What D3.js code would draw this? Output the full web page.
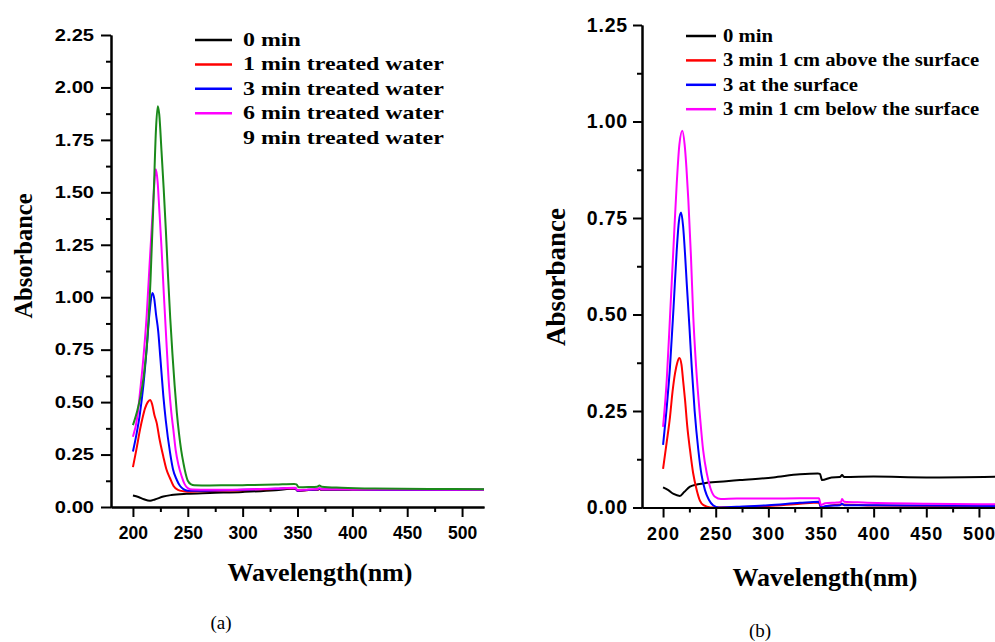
<!DOCTYPE html>
<html>
<head>
<meta charset="utf-8">
<script src="https://cdn.jsdelivr.net/npm/d3@7"></script>
<style>
body { margin: 0; background: #fff; }
svg { display: block; }
.tick text { font-family: "Liberation Sans", Arial, sans-serif; font-weight: bold; fill: #000; }
.serif { font-family: "Liberation Serif", "Times New Roman", serif; fill: #000; }
</style>
</head>
<body>
<script>

// ---- panel (a): treatment time ----
var wlA0  = [200, 205, 210, 215.6, 220, 227.7, 235, 249, 270, 300, 330, 348, 350, 360, 368, 370, 372, 400, 450, 520];
var absA0 = [0.055, 0.048, 0.037, 0.03, 0.036, 0.05, 0.057, 0.063, 0.067, 0.072, 0.08, 0.088, 0.078, 0.081, 0.082, 0.086, 0.082, 0.083, 0.082, 0.082];

var wlA1  = [200, 203, 206.5, 209, 211, 213.5, 215.6, 217.5, 219.5, 221.7, 224, 227.7, 230.5, 233.8, 237, 241, 246, 250, 260, 300, 330, 348, 350, 360, 368, 370, 372, 400, 450, 520];
var absA1 = [0.19, 0.27, 0.37, 0.43, 0.47, 0.50, 0.51, 0.49, 0.44, 0.40, 0.33, 0.24, 0.18, 0.137, 0.10, 0.082, 0.075, 0.073, 0.075, 0.08, 0.086, 0.089, 0.077, 0.081, 0.082, 0.086, 0.082, 0.082, 0.082, 0.082];

var wlA3  = [200, 203, 206.5, 209.5, 212.6, 215, 217.7, 219.5, 221, 223, 225, 227.7, 230, 233.8, 236.5, 239.9, 243, 246, 250, 260, 300, 330, 348, 350, 360, 368, 370, 372, 400, 450, 520];
var absA3 = [0.265, 0.34, 0.45, 0.58, 0.76, 0.92, 1.02, 0.99, 0.92, 0.84, 0.71, 0.53, 0.41, 0.26, 0.18, 0.13, 0.10, 0.085, 0.078, 0.078, 0.082, 0.087, 0.09, 0.078, 0.082, 0.083, 0.087, 0.083, 0.083, 0.082, 0.082];

var wlA6  = [200, 204, 206.5, 209, 212.6, 215, 217, 219, 220.8, 222.5, 224, 226, 228, 230.8, 233, 235, 236.8, 239, 241.5, 244.5, 247, 250, 254, 270, 300, 330, 348, 350, 360, 368, 370, 372, 400, 450, 520];
var absA6 = [0.335, 0.43, 0.55, 0.68, 0.92, 1.14, 1.32, 1.50, 1.61, 1.55, 1.42, 1.24, 1.03, 0.76, 0.57, 0.45, 0.37, 0.27, 0.20, 0.145, 0.11, 0.09, 0.083, 0.082, 0.084, 0.088, 0.092, 0.08, 0.084, 0.085, 0.09, 0.085, 0.084, 0.083, 0.082];

var wlA9  = [200, 204, 207, 210, 213, 216, 219, 221, 222.6, 224, 226, 228, 230, 232, 234, 236, 238, 240, 242, 244, 246, 248, 250, 253, 256, 270, 300, 330, 347, 349, 351, 360, 368, 370, 372, 390, 420, 470, 520];
var absA9 = [0.39, 0.46, 0.53, 0.63, 0.79, 1.08, 1.50, 1.80, 1.91, 1.87, 1.70, 1.52, 1.32, 1.10, 0.90, 0.73, 0.58, 0.45, 0.35, 0.27, 0.21, 0.16, 0.125, 0.108, 0.104, 0.103, 0.104, 0.107, 0.11, 0.108, 0.094, 0.095, 0.097, 0.102, 0.097, 0.092, 0.088, 0.086, 0.085];

var labelsA = ["0 min", "1 min treated water", "3 min treated water", "6 min treated water", "9 min treated water"];

// ---- panel (b): position of treatment ----
var wlB0  = [200, 205, 210, 216, 220, 225.6, 233, 241.5, 260, 273, 304.6, 330, 347, 349, 351, 360, 368, 370, 372, 400, 450, 520];
var absB0 = [0.052, 0.045, 0.035, 0.03, 0.04, 0.054, 0.06, 0.064, 0.068, 0.071, 0.078, 0.086, 0.088, 0.087, 0.071, 0.078, 0.079, 0.084, 0.079, 0.08, 0.078, 0.08];

var wlB1  = [200, 203.5, 206.6, 209, 211.4, 213.5, 215.5, 217.5, 219, 220.9, 223, 225.6, 228.5, 232, 235, 238.4, 245, 270, 300, 330, 348, 350, 355, 370, 400, 520];
var absB1 = [0.10, 0.17, 0.235, 0.30, 0.348, 0.375, 0.387, 0.37, 0.33, 0.278, 0.21, 0.149, 0.09, 0.045, 0.018, 0.006, 0.0, 0.001, 0.004, 0.01, 0.013, 0.0, 0.003, 0.008, 0.005, 0.003];

var wlB2  = [200, 203.5, 206.6, 210, 213, 215, 217.1, 219, 220.8, 222.5, 225, 227.2, 230, 233.5, 236.5, 239.8, 243.5, 247.5, 253, 270, 300, 330, 348, 350, 355, 368, 370, 372, 400, 450, 520];
var absB2 = [0.162, 0.26, 0.365, 0.52, 0.667, 0.74, 0.764, 0.73, 0.66, 0.58, 0.47, 0.365, 0.25, 0.149, 0.085, 0.045, 0.02, 0.006, 0.0, 0.002, 0.006, 0.012, 0.015, 0.0, 0.004, 0.006, 0.01, 0.006, 0.006, 0.005, 0.004];

var wlB3  = [200, 203.5, 206.6, 210, 213, 215.5, 218.3, 220.5, 222.2, 224, 226.5, 228.7, 231.5, 235.1, 238, 241.5, 245, 249.3, 255, 270, 300, 330, 348, 350, 354, 365, 369, 370, 372, 390, 450, 520];
var absB3 = [0.209, 0.33, 0.494, 0.68, 0.84, 0.94, 0.976, 0.94, 0.88, 0.797, 0.65, 0.494, 0.36, 0.235, 0.15, 0.089, 0.05, 0.028, 0.022, 0.023, 0.023, 0.024, 0.024, 0.006, 0.011, 0.013, 0.014, 0.022, 0.015, 0.013, 0.01, 0.008];

var labelsB = ["0 min", "3 min 1 cm above the surface", "3 at the surface", "3 min 1 cm below the surface"];

var xTicks = [200, 250, 300, 350, 400, 450, 500];
var xMinor = [225, 275, 325, 375, 425, 475];
var yTicksA = [0, 0.25, 0.5, 0.75, 1, 1.25, 1.5, 1.75, 2, 2.25];
var yMinorA = [0.125, 0.375, 0.625, 0.875, 1.125, 1.375, 1.625, 1.875, 2.125];
var yTicksB = [0, 0.25, 0.5, 0.75, 1, 1.25];
var yMinorB = [0.125, 0.375, 0.625, 0.875, 1.125];

var colA = ["#000000", "#ff0000", "#0000ff", "#ff00ff", "#1a8a1a"];
var swatchA = [true, true, true, true, false];
var colB = ["#000000", "#ff0000", "#0000ff", "#ff00ff"];

function pairs(wl, ab) {
  return wl.map(function(w, i) { return [w, ab[i]]; });
}

var svg = d3.select("body").append("svg")
  .attr("width", 995)
  .attr("height", 642);

svg.append("rect").attr("width", 995).attr("height", 642).attr("fill", "#fff");

function drawPanel(p) {
  var x = d3.scaleLinear().domain([180, 520]).range(p.xRange);
  var y = d3.scaleLinear().domain(p.yDomain).range(p.yRange);
  var g = svg.append("g");

  var line = d3.line()
    .x(function(d) { return x(d[0]); })
    .y(function(d) { return y(d[1]); })
    .curve(d3.curveMonotoneX);

  // draw the last series first so black ends up on top like the original? no: original draws in order
  p.series.forEach(function(s, i) {
    g.append("path")
      .datum(s)
      .attr("fill", "none")
      .attr("stroke", p.colors[i])
      .attr("stroke-width", 2)
      .attr("stroke-linejoin", "round")
      .attr("d", line);
  });

  var x0 = p.yRange[0];
  var gx = g.append("g").attr("transform", "translate(0," + x0 + ")");
  gx.call(d3.axisBottom(x).tickValues(xTicks).tickFormat(d3.format("d"))
    .tickSize(10).tickSizeOuter(0).tickPadding(p.xPad));
  gx.append("g").call(d3.axisBottom(x).tickValues(xMinor).tickFormat("")
    .tickSize(5).tickSizeOuter(0));
  gx.selectAll(".tick text")
    .attr("font-size", p.xFont)
    .style("letter-spacing", p.xSpacing + "px");

  var gy = g.append("g").attr("transform", "translate(" + p.xRange[0] + ",0)");
  gy.call(d3.axisLeft(y).tickValues(p.yTicks).tickFormat(d3.format(".2f"))
    .tickSize(p.yTick).tickSizeOuter(0));
  gy.append("g").call(d3.axisLeft(y).tickValues(p.yMinor).tickFormat("")
    .tickSize(5).tickSizeOuter(0));
  gy.selectAll(".tick text")
    .attr("font-size", p.yFont)
    .attr("x", -p.yGap / p.yStretch)
    .attr("transform", "scale(" + p.yStretch + ",1)")
    .style("letter-spacing", p.ySpacing + "px");

  g.selectAll(".domain").attr("stroke", "#000").attr("stroke-width", 2);
  g.selectAll(".tick line").attr("stroke", "#000").attr("stroke-width", 2);

  // legend
  p.labels.forEach(function(lab, i) {
    var ly = p.legY + i * 24.4;
    if (p.swatch[i]) {
      g.append("line")
        .attr("x1", p.legX).attr("x2", p.legX + p.legLen)
        .attr("y1", ly).attr("y2", ly)
        .attr("stroke", p.colors[i]).attr("stroke-width", 2.5);
    }
    g.append("text")
      .attr("class", "serif")
      .attr("transform", "translate(" + p.legText + "," + ly + ") scale(" + p.legStretch + ",1)")
      .attr("dy", "0.33em")
      .attr("font-size", 18)
      .attr("font-weight", "bold")
      .text(lab);
  });

  g.append("text")
    .attr("class", "serif")
    .attr("transform", "translate(" + p.yTitle[0] + "," + p.yTitle[1] + ") rotate(-90)")
    .attr("text-anchor", "middle")
    .attr("font-size", p.yTitleSize)
    .attr("font-weight", "bold")
    .text("Absorbance");

  g.append("text")
    .attr("class", "serif")
    .attr("x", p.xTitle[0]).attr("y", p.xTitle[1])
    .attr("text-anchor", "middle")
    .attr("font-size", 26)
    .attr("font-weight", "bold")
    .text("Wavelength(nm)");

  g.append("text")
    .attr("class", "serif")
    .attr("x", p.tag[0]).attr("y", p.tag[1])
    .attr("text-anchor", "middle")
    .attr("font-size", 19)
    .text(p.tagText);
}

drawPanel({
  xRange: [111, 484], yRange: [507, 35], yDomain: [0, 2.25],
  yTicks: yTicksA, yMinor: yMinorA, yTick: 10,
  xFont: 17.5, xSpacing: 0, xPad: 10,
  yFont: 16.5, yStretch: 1.22, yGap: 17, ySpacing: 0,
  series: [pairs(wlA0, absA0), pairs(wlA1, absA1), pairs(wlA3, absA3), pairs(wlA6, absA6), pairs(wlA9, absA9)],
  colors: colA, swatch: swatchA, labels: labelsA,
  legX: 195, legLen: 37, legText: 243, legY: 40, legStretch: 1.33,
  yTitle: [32, 256], yTitleSize: 24.5,
  xTitle: [320, 581], tag: [221, 629], tagText: "(a)"
});

drawPanel({
  xRange: [642, 1000], yRange: [507.5, 25], yDomain: [0, 1.25],
  yTicks: yTicksB, yMinor: yMinorB, yTick: 9,
  xFont: 18, xSpacing: 1, xPad: 10,
  yFont: 19.5, yStretch: 1, yGap: 14, ySpacing: 0.8,
  series: [pairs(wlB0, absB0), pairs(wlB1, absB1), pairs(wlB2, absB2), pairs(wlB3, absB3)],
  colors: colB, swatch: [true, true, true, true], labels: labelsB,
  legX: 686, legLen: 30, legText: 723, legY: 36, legStretch: 1.15,
  yTitle: [565, 277], yTitleSize: 27,
  xTitle: [825, 586], tag: [760, 637], tagText: "(b)"
});

</script>
</body>
</html>
